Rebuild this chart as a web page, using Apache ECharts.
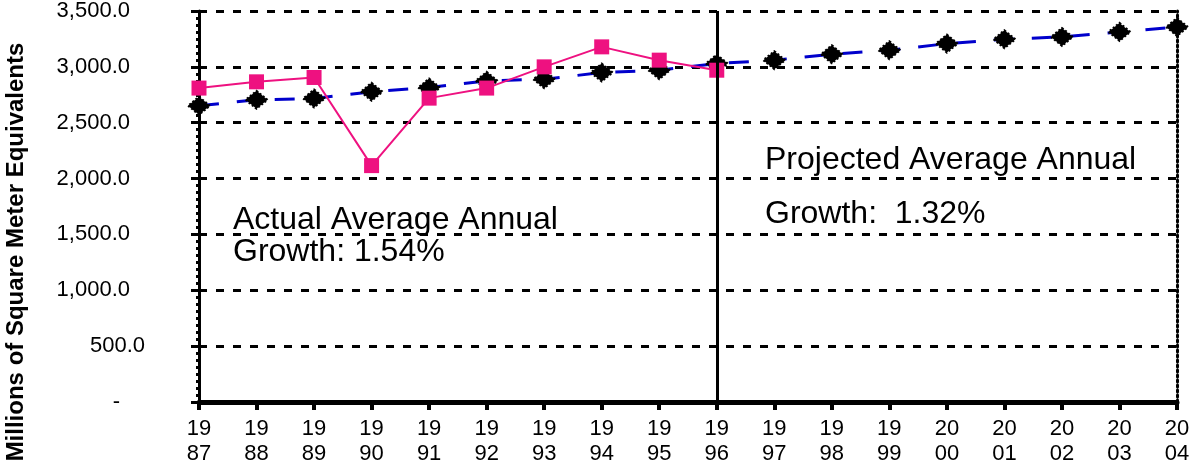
<!DOCTYPE html>
<html>
<head>
<meta charset="utf-8">
<script src="https://cdn.jsdelivr.net/npm/echarts@6/dist/echarts.min.js"></script>
<style>
  html, body { margin: 0; padding: 0; background: #ffffff; }
  #chart { width: 1204px; height: 468px; }
</style>
</head>
<body>
<div id="chart"></div>
<script>
const years = ["1987", "1988", "1989", "1990", "1991", "1992", "1993", "1994", "1995",
  "1996", "1997", "1998", "1999", "2000", "2001", "2002", "2003", "2004"];
// actual (pink) values, 1987-1996
const actual = [2810, 2866, 2905, 2116, 2720, 2810, 3000, 3179, 3060, 2970];
// trend / projection (black diamonds, blue dash), 1987-2004
const trend = [2652, 2705, 2717, 2777, 2815, 2875, 2889, 2949, 2970, 3030,
  3060, 3113, 3149, 3208, 3247, 3268, 3313, 3357];
const yTicks = [0, 500, 1000, 1500, 2000, 2500, 3000, 3500];

const chart = echarts.init(document.getElementById("chart"));
const font = "Liberation Sans, Arial, sans-serif";

function fmtY(v) {
  if (v === 0) return "{z|-}";
  const s = v.toLocaleString("en-US", { minimumFractionDigits: 1, maximumFractionDigits: 1 });
  if (v === 500) return "{n|" + s + "}";
  return "{p|" + s + "}";
}

const option = {
  animation: false,
  backgroundColor: "#ffffff",
  grid: { left: 199, right: 27, top: 11, bottom: 66 },
  xAxis: [
    {
      type: "category",
      data: years,
      boundaryGap: false,
      axisLine: { lineStyle: { color: "#000", width: 5 } },
      axisTick: { length: 8, lineStyle: { color: "#000", width: 4 } },
      axisLabel: {
        interval: 0,
        margin: 14,
        color: "#000",
        fontFamily: font,
        fontSize: 22,
        lineHeight: 25,
        formatter: (v) => v.slice(0, 2) + "\n" + v.slice(2),
      },
      splitLine: { show: false },
    },
    {
      type: "category",
      data: years,
      position: "top",
      boundaryGap: false,
      axisLine: { lineStyle: { color: "#000", width: 3, type: [2, 3] } },
      axisTick: { show: false },
      axisLabel: { show: false },
    },
  ],
  yAxis: [
    {
      type: "value",
      min: 0,
      max: 3500,
      interval: 500,
      axisLine: { show: true, lineStyle: { color: "#000", width: 3 } },
      axisTick: { show: true, length: 8, lineStyle: { color: "#000", width: 3 } },
      minorTick: { show: true, splitNumber: 8, length: 3, lineStyle: { color: "#000", width: 3 } },
      axisLabel: {
        margin: 54,
        color: "#000",
        fontFamily: font,
        fontSize: 22,
        formatter: fmtY,
        rich: {
          p: { fontFamily: font, fontSize: 22, color: "#000", padding: [0, 15, 0, 0] },
          n: { fontFamily: font, fontSize: 22, color: "#000" },
          z: { fontFamily: font, fontSize: 22, color: "#000", padding: [0, 25, 0, 0] },
        },
      },
      splitLine: { show: true, lineStyle: { color: "#000", width: 3, type: [8, 9] } },
    },
    {
      type: "value",
      min: 0,
      max: 3500,
      interval: 500,
      position: "right",
      axisLine: { show: true, lineStyle: { color: "#000", width: 3, type: [2, 3] } },
      axisTick: { show: false },
      axisLabel: { show: false },
      splitLine: { show: false },
    },
  ],
  series: [
    {
      name: "Projected",
      type: "line",
      data: trend,
      symbol: "diamond",
      symbolSize: [22, 18],
      lineStyle: { color: "#0000CC", width: 3, type: [20, 18] },
      itemStyle: { color: "#000", borderColor: "#000", borderWidth: 2, borderType: "dotted" },
      markLine: {
        silent: true,
        symbol: "none",
        label: { show: false },
        lineStyle: { color: "#000", width: 3, type: "solid" },
        data: [{ xAxis: "1996" }],
      },
      z: 3,
    },
    {
      name: "Actual",
      type: "line",
      data: actual,
      symbol: "rect",
      symbolSize: 15,
      lineStyle: { color: "#EE1180", width: 2 },
      itemStyle: { color: "#EE1180" },
      z: 4,
    },
  ],
  graphic: [
    {
      type: "text",
      x: 16,
      y: 252,
      rotation: Math.PI / 2,
      style: {
        text: "Millions of Square Meter Equivalents",
        fill: "#000",
        font: "bold 24px " + font,
        align: "center",
        verticalAlign: "middle",
      },
    },
    {
      type: "text",
      x: 233,
      y: 220,
      style: { text: "Actual Average Annual", fill: "#000", font: "32px " + font, verticalAlign: "middle" },
    },
    {
      type: "text",
      x: 233,
      y: 252,
      style: { text: "Growth: 1.54%", fill: "#000", font: "32px " + font, verticalAlign: "middle" },
    },
    {
      type: "text",
      x: 765,
      y: 160,
      style: { text: "Projected Average Annual", fill: "#000", font: "32px " + font, verticalAlign: "middle" },
    },
    {
      type: "text",
      x: 765,
      y: 214,
      style: { text: "Growth:  1.32%", fill: "#000", font: "32px " + font, verticalAlign: "middle" },
    },
  ],
};

chart.setOption(option);
</script>
</body>
</html>
